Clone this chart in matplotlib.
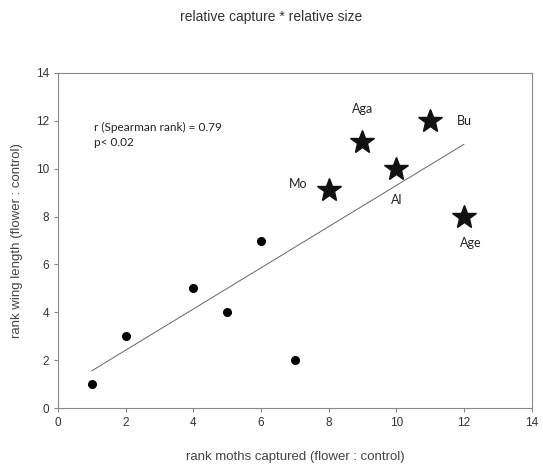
import numpy as np
import matplotlib.pyplot as plt

# rank moths captured vs rank wing length
dot_x = [1, 2, 4, 5, 6, 7]
dot_y = [1, 3, 5, 4, 7, 2]

star_x = [8, 9, 10, 11, 12]
star_y = [9.1, 11.1, 10.0, 12.0, 8.0]
star_names = ['Mo', 'Aga', 'Al', 'Bu', 'Age']
label_x = [7.1, 9.0, 10.0, 12.0, 12.2]
label_y = [9.35, 12.5, 8.7, 12.0, 6.9]

all_x = np.array(dot_x + star_x)
all_y = np.array(dot_y + star_y)
slope, intercept = np.polyfit(all_x, all_y, 1)
fit_x = np.array([min(all_x), max(all_x)])
fit_y = slope * fit_x + intercept

plt.rcParams['font.family'] = ['Liberation Sans', 'DejaVu Sans']

fig = plt.figure(figsize=(5.43, 4.67), dpi=100)
ax = fig.add_axes([0.107, 0.126, 0.872, 0.718])

ax.plot(fit_x, fit_y, color='#666666', linewidth=0.7)
ax.plot(dot_x, dot_y, 'o', color='black', markersize=5.5)
ax.plot(star_x, star_y, '*', color='#111111', markersize=18)

for name, lx, ly in zip(star_names, label_x, label_y):
    ax.text(lx, ly, name, family='Lato', fontsize=9, ha='center', va='center', color='#222222')

ax.text(1.05, 11.7, 'r (Spearman rank) = 0.79', family='Lato', fontsize=8.5, va='center', color='#222222')
ax.text(1.05, 11.1, 'p< 0.02', family='Lato', fontsize=8.5, va='center', color='#222222')

ax.set_xlim(0, 14)
ax.set_ylim(0, 14)
ax.set_xticks(range(0, 15, 2))
ax.set_yticks(range(0, 15, 2))
for s in ax.spines.values():
    s.set_color('#888888')
ax.tick_params(colors='#888888', labelcolor='#333333', labelsize=8.5, length=3)

ax.set_xlabel('rank moths captured (flower : control)', fontsize=9.5, color='#444444', labelpad=16)
ax.set_ylabel('rank wing length (flower : control)', fontsize=9.5, color='#444444', labelpad=9)
fig.text(0.5, 0.963, 'relative capture * relative size', ha='center', va='center', fontsize=10, color='#333333')

fig.savefig('out.png', dpi=100)
